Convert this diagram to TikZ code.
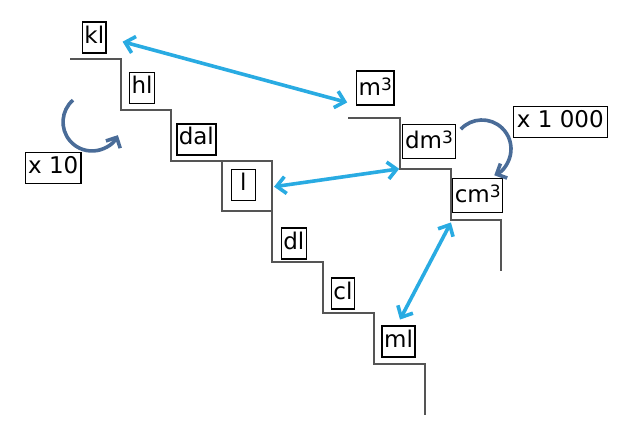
\documentclass[tikz,border=0pt]{standalone}
\usepackage{fontspec}
\setmainfont{DejaVu Sans}
\usetikzlibrary{arrows.meta}
\definecolor{arrblue}{RGB}{41,171,226}
\definecolor{curvblue}{RGB}{74,108,152}
\definecolor{stairgray}{RGB}{85,85,85}
\newcommand\cubeexp{\raisebox{5pt}{\fontsize{17}{17}\selectfont 3}}
\tikzset{
  unitbox/.style={draw=black, line width=1.5pt, fill=white, inner xsep=2pt, inner ysep=5pt,
    font=\fontsize{23}{25}\selectfont, text height=16pt, text depth=5pt, anchor=center},
  stair/.style={draw=stairgray, line width=1.7pt},
  bluearrow/.style={draw=arrblue, line width=3.6pt, {Straight Barb[length=9pt,width=17pt]}-{Straight Barb[length=9pt,width=17pt]}},
  curvarrow/.style={draw=curvblue, line width=3.6pt, -{Straight Barb[length=8pt,width=16pt]}}
}
\begin{document}
\begin{tikzpicture}[x=1pt,y=-1pt]
\useasboundingbox (0,0) rectangle (640,431);
% staircases
\draw[stair] (70,59) -- (121,59) -- (121,110) -- (171,110) -- (171,161) -- (222,161) -- (222,211) -- (272,211) -- (272,262) -- (323,262) -- (323,313) -- (374,313) -- (374,364) -- (425,364) -- (425,415);
\draw[stair] (222,161) -- (272,161) -- (272,211);
\draw[stair] (348,118) -- (400,118) -- (400,169) -- (451,169) -- (451,220) -- (501,220) -- (501,271);
% unit boxes
\node[unitbox, minimum width=23.3pt] (kl) at (94.3,37.7) {kl};
\node[unitbox, minimum width=24pt] (hl) at (142,88.2) {hl};
\node[unitbox, minimum width=37.3pt] (dal) at (196.3,139.3) {dal};
\node[unitbox, minimum width=24pt] (l) at (243.3,185) {l};
\node[unitbox, minimum width=24.3pt] (dl) at (293.8,243.5) {dl};
\node[unitbox, minimum width=21.4pt] (cl) at (343,293.7) {cl};
\node[unitbox, minimum width=31.6pt] (ml) at (398.5,341.5) {ml};
\node[unitbox, minimum width=55.3pt] (xten) at (53.3,168.2) {x 10};
\node[unitbox, minimum width=37.3pt, text height=19pt] (m3) at (375.3,88) {m\cubeexp};
\node[unitbox, minimum width=52.6pt, text height=19pt] (dm3) at (429,141.5) {dm\cubeexp};
\node[unitbox, minimum width=50pt, text height=19pt] (cm3) at (477.7,195.3) {cm\cubeexp};
\node[unitbox, minimum width=94pt] (xthousand) at (560.3,122.2) {x 1 000};
% blue double arrows
\draw[bluearrow] ([shift={(15.7,4)}]kl.east) -- ([shift={(-8.7,-3.3)}]m3.south west);
\draw[bluearrow] ([shift={(18,1.7)}]l.east) -- ([shift={(-2.7,9.6)}]dm3.south west);
\draw[bluearrow] ([shift={(1.5,-5.7)}]ml.north) -- ([shift={(-1,9.4)}]cm3.south west);
% curved arrows
\coordinate (tenstart) at (73,100.1);
\draw[curvarrow] (tenstart) arc[start angle=229, end angle=27, radius=29];
\coordinate (thstart) at (460.8,129.2);
\draw[curvarrow] (thstart) arc[start angle=223, end angle=425, radius=29];
\end{tikzpicture}
\end{document}
